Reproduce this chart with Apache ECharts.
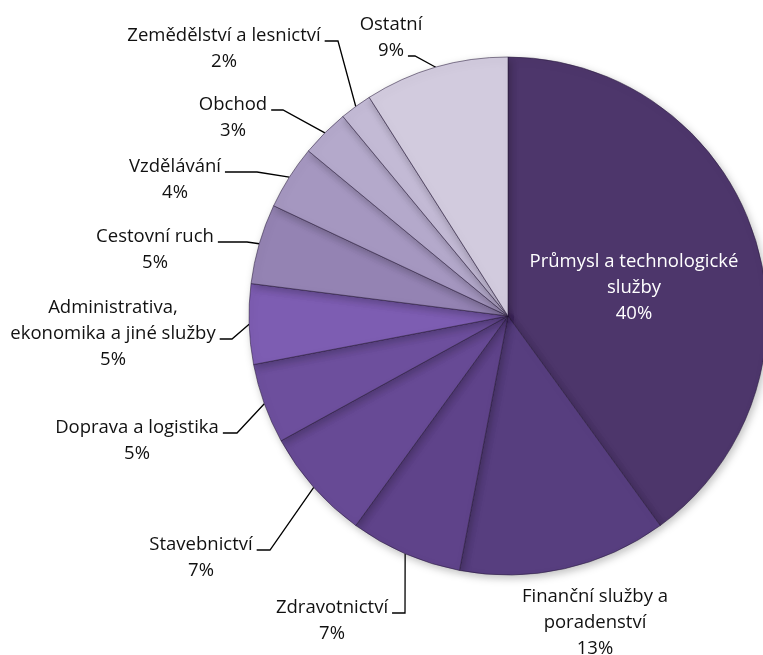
<!DOCTYPE html>
<html>
<head>
<meta charset="utf-8">
<script src="https://cdn.jsdelivr.net/npm/echarts@6/dist/echarts.min.js"></script>
<style>
  html, body { margin: 0; padding: 0; background: #fff; }
  #pie-chart { width: 763px; height: 655px; }
</style>
</head>
<body>
<div id="pie-chart"></div>
<script>
// obory, podíly (%) – po směru hodinových ručiček od 12 hodin
var categories = ['Průmysl a technologické\nslužby', 'Finanční služby a\nporadenství', 'Zdravotnictví', 'Stavebnictví',
  'Doprava a logistika', 'Administrativa,\nekonomika a jiné služby', 'Cestovní ruch', 'Vzdělávání', 'Obchod',
  'Zemědělství a lesnictví', 'Ostatní'];
var shares = [40, 13, 7, 7, 5, 5, 5, 4, 3, 2, 9];

var colors = ['#4d366b', '#573e7f', '#5f438a', '#674a95', '#6d4f9d', '#7d5db2', '#9483b3', '#a597c0', '#b4a9cb', '#c3bad5', '#d2cbde'];

// umístění popisků: [střed x, horní y, řádek s čárou, x lomu čáry] – řádek -1 = bez čáry
var labelSpots = [
  [634, 249, -1, 0],
  [595, 584, -1, 0],
  [332, 595, 0, 405],
  [201, 532, 0, 270],
  [137, 415, 0, 237],
  [113, 295, 1, 232],
  [155, 224, 0, 247],
  [175, 154, 0, 257],
  [233, 92, 0, 283],
  [224, 23, 0, 338],
  [391, 12, 1, 415]
];

var FONT = '"Open Sans"';
var FONT_SIZE = 18.5;
var LINE_H = 26;

(function () {
  var pieChart = echarts.init(document.getElementById('pie-chart'));
  var ctx = document.createElement('canvas').getContext('2d');
  ctx.font = FONT_SIZE + 'px ' + FONT;

  function rowsOf(i) {
    return categories[i].split('\n').concat([shares[i] + '%']);
  }

  function rowWidth(s) {
    return ctx.measureText(s).width;
  }

  var data = [];
  for (var i = 0; i < categories.length; i++) {
    data.push({
      name: categories[i],
      value: shares[i],
      itemStyle: { color: colors[i] },
      labelLine: { show: labelSpots[i][2] >= 0 }
    });
  }

  var option = {
    animation: false,
    series: [
      {
        type: 'pie',
        center: [508, 316],
        radius: 259,
        startAngle: 90,
        clockwise: true,
        avoidLabelOverlap: false,
        data: data,
        itemStyle: {
          borderColor: 'rgba(40, 25, 60, 0.55)',
          borderWidth: 1,
          shadowBlur: 8,
          shadowOffsetX: 2,
          shadowOffsetY: 3,
          shadowColor: 'rgba(0, 0, 0, 0.25)'
        },
        label: {
          show: true,
          overflow: 'none',
          formatter: function (p) {
            var key = p.dataIndex === 0 ? 'w' : 'n';
            return rowsOf(p.dataIndex).map(function (s) {
              return '{' + key + '|' + s + '}';
            }).join('\n');
          },
          rich: {
            n: { fontFamily: FONT, fontSize: FONT_SIZE, lineHeight: LINE_H, color: '#111', align: 'center' },
            w: { fontFamily: FONT, fontSize: FONT_SIZE, lineHeight: LINE_H, color: '#ffffff', align: 'center' }
          }
        },
        labelLine: {
          show: true,
          lineStyle: { color: '#000', width: 1.3 }
        },
        // popisky na místa podle předlohy, čára od okraje výseče přes lom k textu
        labelLayout: function (params) {
          var i = params.dataIndex;
          var spot = labelSpots[i];
          var rows = rowsOf(i);
          var maxW = Math.max.apply(null, rows.map(rowWidth));
          var res = {
            x: spot[0],
            y: spot[1],
            align: 'center',
            verticalAlign: 'top',
            width: Math.ceil(maxW) + 2
          };
          if (spot[2] >= 0 && params.labelLinePoints) {
            var lineY = spot[1] + LINE_H / 2 + LINE_H * spot[2] + 5;
            var endX = spot[0] + rowWidth(rows[spot[2]]) / 2 + 4;
            res.labelLinePoints = [
              params.labelLinePoints[0],
              [spot[3], lineY],
              [endX, lineY]
            ];
          }
          return res;
        }
      }
    ]
  };

  pieChart.setOption(option);
})();
</script>
</body>
</html>
